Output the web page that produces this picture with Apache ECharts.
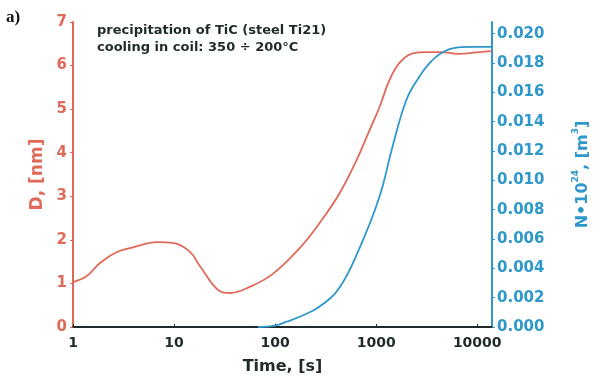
<!DOCTYPE html>
<html>
<head>
<meta charset="utf-8">
<script src="https://cdn.jsdelivr.net/npm/echarts@6/dist/echarts.min.js"></script>
<style>
  html, body { margin: 0; padding: 0; background: #ffffff; }
  #chart { width: 595px; height: 381px; }
</style>
</head>
<body>
<div id="chart"></div>
<script>
// Mean precipitate diameter D [nm] versus time [s]
const sizeTime = [1, 1.37, 1.85, 2.72, 3.92, 6.76, 9.8, 14.3, 18, 28.5, 35.6, 56, 95, 175, 276, 435, 640, 861, 1080, 1355, 1700, 2290, 3160, 4230, 6600, 10500, 14000];
const sizeD    = [1.03, 1.17, 1.47, 1.72, 1.83, 1.95, 1.93, 1.73, 1.4, 0.82, 0.78, 0.92, 1.22, 1.81, 2.39, 3.07, 3.83, 4.52, 5.05, 5.67, 6.06, 6.28, 6.31, 6.31, 6.27, 6.31, 6.33];

// Number of precipitates N*10^24 [m^3] versus time [s]
const countTime = [68, 100, 130, 175, 276, 435, 686, 1080, 1452, 1995, 2690, 3370, 4230, 5690, 8900, 14000];
const countN    = [0, 0.0001, 0.00036, 0.0007, 0.0014, 0.0027, 0.0054, 0.0089, 0.0123, 0.0155, 0.0171, 0.0180, 0.0186, 0.0190, 0.0191, 0.0191];

// Axis ranges and tick steps
const timeRange = [1, 14000];
const sizeRange = [0, 7];
const sizeStep = 1;
const countRange = [0, 0.0208];
const countStep = 0.002;

const noteLines = ['precipitation of TiC (steel Ti21)', 'cooling in coil: 350 ÷ 200°C'];

const RED = '#df6a5a';
const BLUE = '#2e98cc';
const DARK = '#1f2b2b';
const FONT = '"DejaVu Sans", Arial, sans-serif';

const chart = echarts.init(document.getElementById('chart'), null, { renderer: 'canvas' });

const zip = (xs, ys) => xs.map((x, i) => [x, ys[i]]);

chart.setOption({
  animation: false,
  backgroundColor: '#ffffff',
  grid: { left: 73, right: 103, top: 22, bottom: 54, containLabel: false, outerBoundsMode: 'none' },
  graphic: [
    {
      type: 'text', left: 6, top: 9,
      style: { text: 'a)', font: 'bold 17px "Liberation Serif", "DejaVu Serif", serif', fill: '#111111' }
    },
    {
      type: 'text', left: 97, top: 22,
      style: { text: noteLines.join('\n'), font: 'bold 13px ' + FONT, fill: DARK, lineHeight: 17 }
    }
  ],
  xAxis: {
    type: 'log',
    logBase: 10,
    min: timeRange[0],
    max: timeRange[1],
    name: 'Time, [s]',
    nameLocation: 'middle',
    nameGap: 32,
    nameTextStyle: { color: DARK, fontFamily: FONT, fontWeight: 'bold', fontSize: 16 },
    axisLine: { show: true, lineStyle: { color: DARK, width: 2 } },
    axisTick: { show: true, inside: true, length: 3, lineStyle: { color: DARK, width: 1 } },
    axisLabel: {
      color: DARK, fontFamily: FONT, fontWeight: 'bold', fontSize: 14, margin: 9,
      showMaxLabel: false,
      formatter: v => String(Math.round(v))
    },
    splitLine: { show: false },
    minorTick: { show: false }
  },
  yAxis: [
    {
      type: 'value',
      min: sizeRange[0], max: sizeRange[1], interval: sizeStep,
      position: 'left',
      name: 'D, [nm]',
      nameLocation: 'middle',
      nameGap: 26,
      nameRotate: 90,
      nameTextStyle: { color: RED, fontFamily: FONT, fontWeight: 'bold', fontSize: 17 },
      axisLine: { show: true, lineStyle: { color: RED, width: 2 } },
      axisTick: { show: true, length: 3, lineStyle: { color: RED } },
      axisLabel: { color: RED, fontFamily: FONT, fontWeight: 'bold', fontSize: 15, margin: 6 },
      splitLine: { show: false }
    },
    {
      type: 'value',
      min: countRange[0], max: countRange[1], interval: countStep,
      position: 'right',
      name: '{b|N•10}{s|24}{b|, [m}{s|3}{b|]}',
      nameLocation: 'middle',
      nameGap: 79,
      nameRotate: 90,
      nameTextStyle: {
        color: BLUE, fontFamily: FONT, fontWeight: 'bold', fontSize: 16,
        rich: {
          b: { color: BLUE, fontFamily: FONT, fontWeight: 'bold', fontSize: 16, lineHeight: 20, verticalAlign: 'bottom' },
          s: { color: BLUE, fontFamily: FONT, fontWeight: 'bold', fontSize: 9, lineHeight: 20, verticalAlign: 'top' }
        }
      },
      axisLine: { show: true, lineStyle: { color: BLUE, width: 2 } },
      axisTick: { show: true, length: 3, lineStyle: { color: BLUE } },
      axisLabel: {
        color: BLUE, fontFamily: FONT, fontWeight: 'bold', fontSize: 15, margin: 5,
        showMaxLabel: false,
        formatter: v => v.toFixed(3)
      },
      splitLine: { show: false }
    }
  ],
  series: [
    {
      type: 'line',
      yAxisIndex: 0,
      data: zip(sizeTime, sizeD),
      showSymbol: false,
      smooth: 0.4,
      lineStyle: { color: RED, width: 1.8 },
      z: 3
    },
    {
      type: 'line',
      yAxisIndex: 1,
      data: zip(countTime, countN),
      showSymbol: false,
      smooth: 0.4,
      lineStyle: { color: BLUE, width: 1.8 },
      z: 4
    }
  ]
});
</script>
</body>
</html>
